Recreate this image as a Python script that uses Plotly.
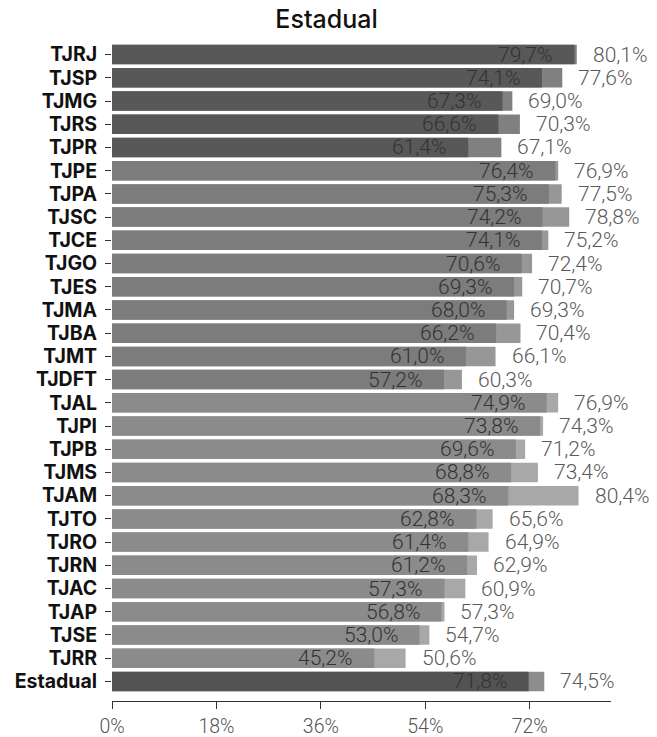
import plotly.graph_objects as go

categories = ["TJRJ", "TJSP", "TJMG", "TJRS", "TJPR",
              "TJPE", "TJPA", "TJSC", "TJCE", "TJGO", "TJES", "TJMA", "TJBA", "TJMT", "TJDFT",
              "TJAL", "TJPI", "TJPB", "TJMS", "TJAM", "TJTO", "TJRO", "TJRN", "TJAC", "TJAP", "TJSE", "TJRR",
              "Estadual"]
value_a = [79.7, 74.1, 67.3, 66.6, 61.4,
           76.4, 75.3, 74.2, 74.1, 70.6, 69.3, 68.0, 66.2, 61.0, 57.2,
           74.9, 73.8, 69.6, 68.8, 68.3, 62.8, 61.4, 61.2, 57.3, 56.8, 53.0, 45.2,
           71.8]
value_b = [80.1, 77.6, 69.0, 70.3, 67.1,
           76.9, 77.5, 78.8, 75.2, 72.4, 70.7, 69.3, 70.4, 66.1, 60.3,
           76.9, 74.3, 71.2, 73.4, 80.4, 65.6, 64.9, 62.9, 60.9, 57.3, 54.7, 50.6,
           74.5]
groups = ["grande"] * 5 + ["medio"] * 10 + ["pequeno"] * 12 + ["total"]
x_ticks = [0, 18, 36, 54, 72]

dark_colors = {"grande": "#585858", "medio": "#7c7c7c", "pequeno": "#8b8b8b", "total": "#535353"}
light_colors = {"grande": "#808080", "medio": "#979797", "pequeno": "#a8a8a8", "total": "#8d8d8d"}

def fmt(v):
    return f"{v:.1f}".replace(".", ",") + "%"

ypos = list(range(len(categories)))

fig = go.Figure()
fig.add_trace(go.Bar(
    y=ypos, x=value_b, orientation="h",
    marker=dict(color=[light_colors[g] for g in groups], line=dict(width=0)),
    hoverinfo="skip", showlegend=False,
))
fig.add_trace(go.Bar(
    y=ypos, x=value_a, orientation="h",
    marker=dict(color=[dark_colors[g] for g in groups], line=dict(width=0)),
    hoverinfo="skip", showlegend=False,
))

val_font = dict(family="Roboto", size=21, weight=300)
for i, (a, b) in enumerate(zip(value_a, value_b)):
    fig.add_annotation(x=a, y=i, text=fmt(a), showarrow=False, xanchor="right",
                       xshift=-20, yanchor="middle", borderpad=0,
                       font=dict(color="#333333", **val_font))
    fig.add_annotation(x=b, y=i, text=fmt(b), showarrow=False, xanchor="left",
                       xshift=15, yanchor="middle", borderpad=0,
                       font=dict(color="#5a5a5a", **val_font))

fig.update_layout(
    width=657, height=737,
    barmode="overlay", bargap=0.16,
    plot_bgcolor="white", paper_bgcolor="white",
    margin=dict(l=112, r=46, t=43, b=36),
    title=dict(text="Estadual", x=0.497, xanchor="center", y=0.974, yanchor="middle",
               font=dict(family="Inter", size=25, weight=500, color="#111111")),
    xaxis=dict(range=[0, 86], tickvals=x_ticks, ticktext=[f"{t}%" for t in x_ticks],
               automargin=False,
               showgrid=False, zeroline=False, showline=True, linecolor="#333333", linewidth=1.3,
               ticks="outside", ticklen=7, tickcolor="#333333", tickwidth=1.3,
               ticklabelstandoff=0,
               tickfont=dict(family="Roboto", size=19.5, weight=300, color="#555555")),
    yaxis=dict(range=[len(categories) - 0.5 + 0.345, -0.5], tickvals=ypos, ticktext=categories,
               automargin=False,
               showgrid=False, zeroline=False, showline=False,
               ticks="outside", ticklen=6, tickcolor="#333333", tickwidth=1.2,
               ticklabelstandoff=4,
               tickfont=dict(family="Inter", size=19.5, weight=700, color="#111111")),
)

fig.write_html("out.html")
